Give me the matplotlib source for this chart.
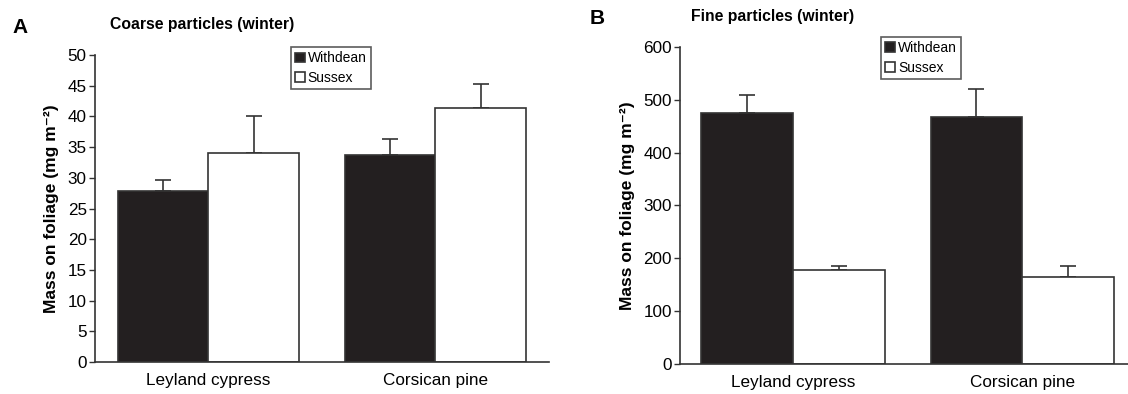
import numpy as np
import matplotlib.pyplot as plt

plt.rcParams['font.family'] = ['Liberation Sans', 'DejaVu Sans']

# Data
species = ['Leyland cypress', 'Corsican pine']
sites = ['Withdean', 'Sussex']

coarse_withdean = [27.8, 33.8]
coarse_sussex = [34.0, 41.3]
coarse_withdean_se = [1.9, 2.6]
coarse_sussex_se = [6.1, 4.0]

fine_withdean = [474, 468]
fine_sussex = [177, 165]
fine_withdean_se = [35, 53]
fine_sussex_se = [9, 21]

edge = '#333333'
x = np.arange(len(species))
w = 0.4

fig = plt.figure(figsize=(11.28, 3.94), dpi=100)
axA = fig.add_axes([0.0842, 0.0812, 0.4025, 0.779])
axB = fig.add_axes([0.603, 0.076, 0.397, 0.805])


def draw(ax, wd, sx, wd_se, sx_se, ymax, step, xlim):
    ax.bar(x - w / 2, wd, w, color='#231f20', edgecolor=edge, linewidth=1.2,
           label=sites[0], zorder=2)
    ax.bar(x + w / 2, sx, w, color='white', edgecolor=edge, linewidth=1.2,
           label=sites[1], zorder=2)
    ax.errorbar(x - w / 2, wd, yerr=[np.zeros(len(wd)), wd_se], fmt='none',
                ecolor=edge, elinewidth=1.2, capsize=6, capthick=1.2, zorder=1)
    ax.errorbar(x + w / 2, sx, yerr=[np.zeros(len(sx)), sx_se], fmt='none',
                ecolor=edge, elinewidth=1.2, capsize=6, capthick=1.2, zorder=1)
    ax.set_ylim(0, ymax)
    ax.set_yticks(np.arange(0, ymax + step / 2, step))
    ax.set_xlim(*xlim)
    ax.set_xticks(x)
    ax.set_xticklabels(species, fontsize=12.3)
    ax.tick_params(axis='x', length=0, pad=8)
    ax.tick_params(axis='y', direction='out', length=4, width=1, color=edge,
                   labelsize=12.3, pad=2)
    for s in ['top', 'right']:
        ax.spines[s].set_visible(False)
    for s in ['left', 'bottom']:
        ax.spines[s].set_color(edge)
        ax.spines[s].set_linewidth(1.2)
    ax.set_ylabel('Mass on foliage (mg m\u207b\u00b2)', fontsize=12.5,
                  fontweight='bold', labelpad=6)


draw(axA, coarse_withdean, coarse_sussex, coarse_withdean_se, coarse_sussex_se,
     50, 5, (-0.5, 1.5))
draw(axB, fine_withdean, fine_sussex, fine_withdean_se, fine_sussex_se,
     600, 100, (-0.49, 1.46))

for ax, anchor in [(axA, (0.432, 1.026)), (axB, (0.449, 1.031))]:
    leg = ax.legend(loc='upper left', bbox_to_anchor=anchor, fontsize=10,
                    frameon=True, fancybox=False, handlelength=0.7,
                    handleheight=0.7, handletextpad=0.2, borderpad=0.3,
                    labelspacing=0.4, borderaxespad=0)
    leg.get_frame().set_edgecolor(edge)
    leg.get_frame().set_linewidth(1.2)

fig.text(0.011, 0.929, 'A', fontsize=15, fontweight='bold', va='center')
fig.text(0.0975, 0.937, 'Coarse particles (winter)', fontsize=11.3,
         fontweight='bold', va='center')
fig.text(0.523, 0.954, 'B', fontsize=15, fontweight='bold', va='center')
fig.text(0.613, 0.957, 'Fine particles (winter)', fontsize=11.3,
         fontweight='bold', va='center')

fig.savefig('out.png', dpi=100)
